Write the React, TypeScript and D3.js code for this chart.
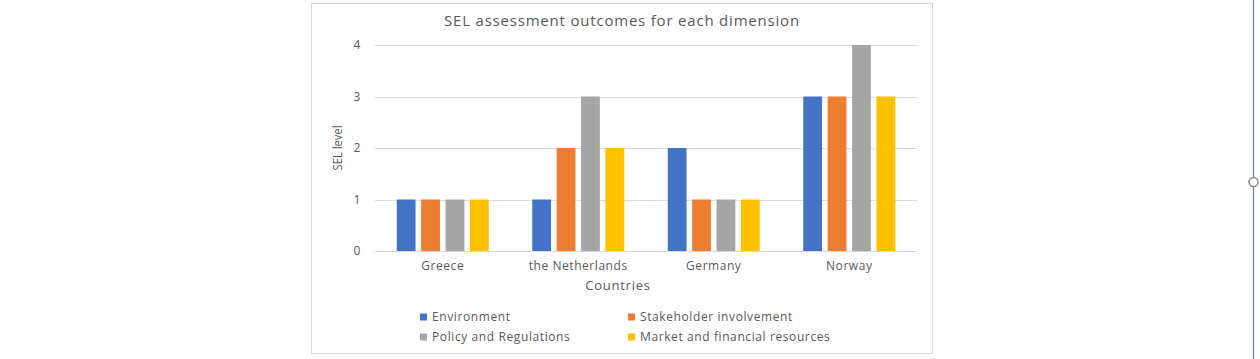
import React from "react";
import * as d3 from "d3";

const categories = ["Greece", "the Netherlands", "Germany", "Norway"];
const seriesNames = ["Environment", "Stakeholder involvement", "Policy and Regulations", "Market and financial resources"];
const environment = [1, 1, 2, 3];
const stakeholder = [1, 2, 1, 3];
const policy = [1, 3, 1, 4];
const market = [1, 2, 1, 3];
const yTicks = [0, 1, 2, 3, 4];
const colors = ["#4472C4", "#ED7D31", "#A5A5A5", "#FFC000"];

const seriesValues = [environment, stakeholder, policy, market];

export default function App() {
  const W = 1260, H = 359;
  const x = d3.scaleBand<string>().domain(categories).range([375, 917]);
  const y = d3.scaleLinear().domain([0, 4]).range([251, 45]);
  const inner = d3.scaleBand<number>().domain([0, 1, 2, 3]).range([0, 92]).paddingInner(0.23);
  const font = "'Open Sans', sans-serif";
  const txt = "#595959";
  return (
    <svg width={W} height={H} style={{ position: "absolute", left: 0, top: 0 }}>
      <rect x={0} y={0} width={W} height={H} fill="#fff" />
      <rect x={311.5} y={3.5} width={621} height={350} fill="#fff" stroke="#d9d9d9" />
      <text x={622} y={26} textAnchor="middle" fontFamily={font} fontSize={15} letterSpacing={0.8} fill={txt}>
        SEL assessment  outcomes for each dimension
      </text>
      {yTicks.map((t) => (
        <g key={t}>
          <line x1={375} x2={917} y1={Math.round(y(t)) + 0.5} y2={Math.round(y(t)) + 0.5} stroke="#d9d9d9" />
          <text x={357} y={y(t) + 4} textAnchor="middle" fontFamily={font} fontSize={12} fill={txt}>{t}</text>
        </g>
      ))}
      {categories.map((c, ci) => {
        const cx = x(c)! + x.bandwidth() / 2;
        const g0 = cx - 46;
        return (
          <g key={c}>
            {seriesValues.map((vals, si) => (
              <rect key={si} x={g0 + inner(si)!} y={y(vals[ci])} width={inner.bandwidth()} height={y(0) - y(vals[ci])} fill={colors[si]} />
            ))}
            <text x={cx} y={270} textAnchor="middle" fontFamily={font} fontSize={12} letterSpacing={0.55} fill={txt}>{c}</text>
          </g>
        );
      })}
      <text transform="translate(342,148) rotate(-90)" textAnchor="middle" fontFamily={font} fontSize={12.5} textLength={45} lengthAdjust="spacingAndGlyphs" fill={txt}>SEL level</text>
      <text x={618} y={290} textAnchor="middle" fontFamily={font} fontSize={13} letterSpacing={0.75} fill={txt}>Countries</text>
      {seriesNames.map((n, i) => {
        const lx = i % 2 === 0 ? 420 : 628;
        const ly = i < 2 ? 317 : 337;
        return (
          <g key={n}>
            <rect x={lx} y={ly - 3.5} width={7} height={7} fill={colors[i]} />
            <text x={lx + 12} y={ly + 4} fontFamily={font} fontSize={12} letterSpacing={0.6} fill={txt}>{n}</text>
          </g>
        );
      })}
      <line x1={1253.5} x2={1253.5} y1={0} y2={H} stroke="#6a79b0" strokeWidth={1.2} />
      <circle cx={1253.5} cy={182} r={4.5} fill="#fff" stroke="#888" strokeWidth={1.5} />
    </svg>
  );
}
